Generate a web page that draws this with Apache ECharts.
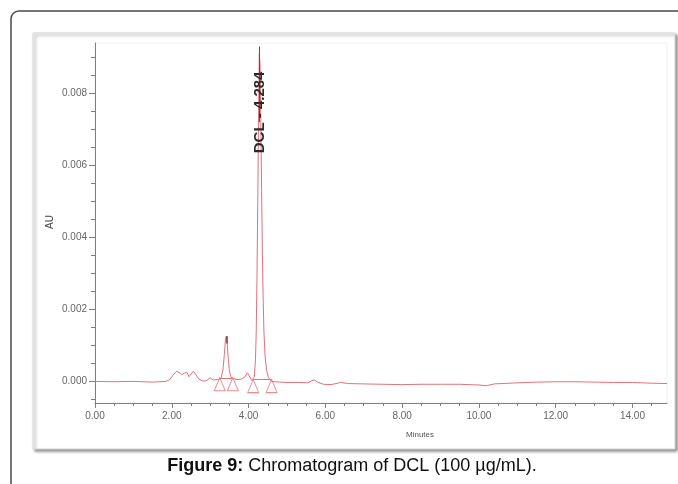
<!DOCTYPE html>
<html><head><meta charset="utf-8">
<script src="https://cdn.jsdelivr.net/npm/echarts@6/dist/echarts.min.js"></script>
<style>html,body{margin:0;padding:0;background:#fff}#c{width:678px;height:484px}</style>
</head><body><div id="c"></div>
<script>
// Chromatogram trace (minutes, AU)
const times = [0.0,0.5,1.0,1.5,1.85,1.95,2.05,2.13,2.2,2.26,2.32,2.39,2.45,2.5,2.56,2.62,2.7,2.8,2.9,3.0,3.08,3.18,3.28,3.33,3.37,3.40,3.42,3.44,3.47,3.50,3.54,3.6,3.7,3.8,3.9,3.97,4.02,4.08,4.12,4.15,4.18,4.20,4.22,4.24,4.26,4.28,4.30,4.32,4.34,4.36,4.38,4.40,4.43,4.47,4.52,4.6,4.8,5.0,5.3,5.55,5.65,5.72,5.8,5.95,6.15,6.4,6.6,7.0,7.5,8.0,8.5,9.0,9.5,10.0,10.2,10.4,11.0,11.5,12.0,12.5,13.0,13.5,14.0,14.5,14.9];
const absorb = [0.00000,-0.00001,0.00000,-0.00002,0.00000,0.00005,0.00020,0.00028,0.00024,0.00019,0.00022,0.00026,0.00013,0.00018,0.00028,0.00020,0.00007,0.00001,0.00002,0.00010,0.00004,0.00005,0.00008,0.00030,0.00075,0.00118,0.00125,0.00110,0.00065,0.00030,0.00012,0.00008,0.00005,0.00006,0.00012,0.00024,0.00015,0.00003,0.00003,0.00012,0.00060,0.00140,0.00290,0.00500,0.00740,0.00910,0.00880,0.00720,0.00530,0.00360,0.00230,0.00140,0.00070,0.00030,0.00010,0.00000,-0.00002,-0.00003,-0.00003,-0.00004,0.00002,0.00004,-0.00002,-0.00008,-0.00009,-0.00003,-0.00006,-0.00007,-0.00008,-0.00009,-0.00008,-0.00008,-0.00008,-0.00010,-0.00012,-0.00007,-0.00004,-0.00002,-0.00001,-0.00001,-0.00002,-0.00003,-0.00003,-0.00005,-0.00006];
// Integration markers (peak start/end)
const markerTimes = [3.25, 3.59, 4.12, 4.6];
const markerValues = [0.00010, 0.00010, 0.00005, 0.00005];
// Peak label
const peakName = 'DCL - 4.284';
const peakTime = 4.284;
const peakLineTop = 0.0093;
const peakLineBottom = 0.0072;
const peakLabelValue = 0.0075;
const minorPeakTime = 3.42;
const minorPeakTop = 0.00126;
const minorPeakLineBottom = 0.00105;
// Axis ticks
const xLabelValues = [0,2,4,6,8,10,12,14];
const xMinorTicks = [0,0.5,1,1.5,2,2.5,3,3.5,4,4.5,5,5.5,6,6.5,7,7.5,8,8.5,9,9.5,10,10.5,11,11.5,12,12.5,13,13.5,14,14.5];
const yLabelValues = [0,0.002,0.004,0.006,0.008];
const yMinorTicks = [-0.0005,0,0.0005,0.001,0.0015,0.002,0.0025,0.003,0.0035,0.004,0.0045,0.005,0.0055,0.006,0.0065,0.007,0.0075,0.008,0.0085,0.009];
const caption = 'Chromatogram of DCL (100 µg/mL).';

const traceColor = '#e5707a';
const axisColor = '#808080';
const labelColor = '#666';
const font = '"Liberation Sans",Arial,sans-serif';

const chart = echarts.init(document.getElementById('c'), null, {renderer:'canvas'});
const xBase = {type:'value', min:0, max:14.9, splitLine:{show:false}};
const yBase = {type:'value', min:-0.0006, max:0.0094, splitLine:{show:false}};
chart.setOption({
  animation:false,
  backgroundColor:'#fff',
  grid:{left:95, right:11, top:43, bottom:81, show:true, borderColor:'#f0f0f0', borderWidth:1, backgroundColor:'transparent'},
  graphic:[
    {type:'rect', z:-10, shape:{x:11, y:11, width:720, height:520, r:8}, style:{fill:'#fff', stroke:'#4a4a4a', lineWidth:1.5}},
    {type:'rect', z:-9, shape:{x:33, y:33, width:642, height:416}, style:{fill:'#fff', stroke:'#d8d8d8', lineWidth:1, shadowBlur:3, shadowOffsetX:2, shadowOffsetY:2, shadowColor:'rgba(0,0,0,0.45)'}},
    {type:'text', x:352, y:466, style:{align:'center', verticalAlign:'middle', rich:{b:{fontWeight:'bold', fontSize:18, fontFamily:font, fill:'#111'}, n:{fontSize:18, fontFamily:font, fill:'#111'}}, text:'{b|Figure 9:}{n| ' + caption + '}'}},
    {type:'text', x:420, y:435, style:{text:'Minutes', fontSize:8, fontFamily:font, fill:'#555', align:'center', verticalAlign:'middle'}},
    {type:'text', x:50, y:222, rotation:Math.PI/2, style:{text:'AU', fontSize:10, fontFamily:font, fill:'#444', align:'center', verticalAlign:'middle'}}
  ],
  xAxis:[
    Object.assign({}, xBase, {
      axisLine:{onZero:false, lineStyle:{color:axisColor, width:1}},
      axisTick:{length:5, customValues:xLabelValues, lineStyle:{color:axisColor}},
      axisLabel:{customValues:xLabelValues, color:labelColor, fontSize:10, fontFamily:font, margin:8, formatter:v=>v.toFixed(2)}
    }),
    Object.assign({}, xBase, {position:'bottom',
      axisLine:{show:false, onZero:false},
      axisTick:{length:3, customValues:xMinorTicks, lineStyle:{color:axisColor}},
      axisLabel:{show:false}
    })
  ],
  yAxis:[
    Object.assign({}, yBase, {
      axisLine:{show:true, onZero:false, lineStyle:{color:axisColor, width:1}},
      axisTick:{show:true, length:6, customValues:yLabelValues, lineStyle:{color:axisColor}},
      axisLabel:{customValues:yLabelValues, color:labelColor, fontSize:10, fontFamily:font, margin:8, formatter:v=>v.toFixed(3)}
    }),
    Object.assign({}, yBase, {position:'left',
      axisLine:{show:false, onZero:false},
      axisTick:{show:true, length:4, customValues:yMinorTicks, lineStyle:{color:axisColor}},
      axisLabel:{show:false}
    })
  ],
  series:[
    {
      type:'line', xAxisIndex:0, yAxisIndex:0, showSymbol:false, symbol:'none',
      data: times.map((t,i)=>[t, absorb[i]]),
      lineStyle:{color:traceColor, width:1},
      markLine:{silent:true, symbol:'none', animation:false,
        data:[
          [{coord:[peakTime, peakLineTop], lineStyle:{color:'#555', width:1, type:'solid'}}, {coord:[peakTime, peakLineBottom]}],
          [{coord:[minorPeakTime, minorPeakTop], lineStyle:{color:'#8a3a3a', width:1.5, type:'solid'}}, {coord:[minorPeakTime, minorPeakLineBottom]}],
          [{coord:[markerTimes[0], markerValues[0]], lineStyle:{color:traceColor, width:1, type:'solid'}}, {coord:[markerTimes[1], markerValues[1]]}],
          [{coord:[markerTimes[2], markerValues[2]], lineStyle:{color:traceColor, width:1, type:'solid'}}, {coord:[markerTimes[3], markerValues[3]]}]
        ],
        label:{show:false}
      },
      markPoint:{silent:true, symbol:'rect', symbolSize:1, itemStyle:{color:'rgba(0,0,0,0)'},
        data:[{coord:[peakTime, peakLabelValue], label:{show:true, formatter:peakName, rotate:90, color:'#2a2a2a', fontSize:15, fontWeight:'bold', fontFamily:'"Liberation Sans",Arial,sans-serif', position:'inside', offset:[-1,0]}}]
      }
    },
    {
      type:'scatter', xAxisIndex:0, yAxisIndex:0, symbol:'triangle', symbolSize:[11,13], symbolOffset:[0,'50%'],
      data: markerTimes.map((t,i)=>[t, markerValues[i]]),
      itemStyle:{color:'rgba(255,255,255,0)', borderColor:traceColor, borderWidth:1}
    }
  ]
});
</script>
</body></html>
